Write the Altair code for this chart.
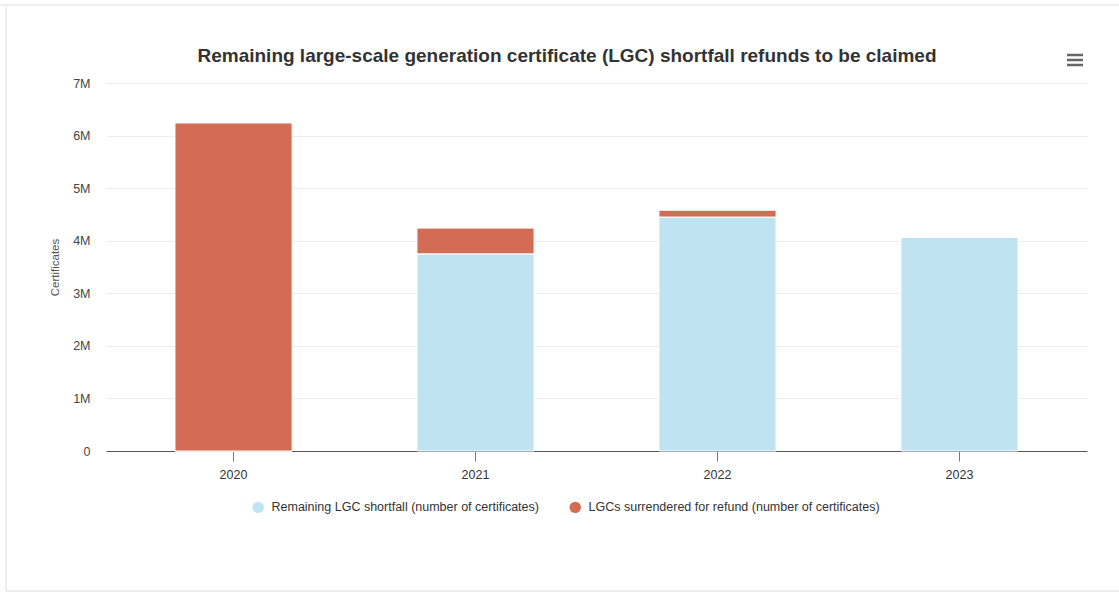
import altair as alt
import pandas as pd

years = ["2020", "2021", "2022", "2023"]
remaining = [0, 3750000, 4450000, 4070000]
surrendered = [6240000, 490000, 130000, 0]
series_names = ["Remaining LGC shortfall (number of certificates)",
                "LGCs surrendered for refund (number of certificates)"]
colors = ["#C0E3F2", "#D36C55"]
title_text = "Remaining large-scale generation certificate (LGC) shortfall refunds to be claimed"

rows = []
for i, y in enumerate(years):
    rows.append({"year": y, "series": series_names[0], "value": remaining[i], "order": 0})
    rows.append({"year": y, "series": series_names[1], "value": surrendered[i], "order": 1})
df = pd.DataFrame(rows)

W, H = 981, 368

bars = alt.Chart(df).mark_bar(stroke="white", strokeWidth=1).encode(
    x=alt.X("year:N", title=None,
            scale=alt.Scale(paddingInner=0.516, paddingOuter=0.285),
            axis=alt.Axis(labelAngle=0, labelFontSize=12.5, labelColor="#333333",
                          labelFont="Liberation Sans", labelPadding=7,
                          domainColor="#555555", tickColor="#777777", tickSize=10,
                          grid=False)),
    y=alt.Y("value:Q", title="Certificates", stack="zero",
            scale=alt.Scale(domain=[0, 7000000]),
            axis=alt.Axis(values=[0, 1000000, 2000000, 3000000, 4000000, 5000000, 6000000, 7000000],
                          labelExpr="datum.value == 0 ? '0' : (datum.value / 1000000) + 'M'",
                          labelFontSize=12.5, labelColor="#444444", labelFont="Liberation Sans",
                          labelPadding=16, domain=False, ticks=False,
                          gridColor="#ececec", titleFontSize=11.5, titleFontWeight="normal",
                          titleColor="#555555", titleFont="Liberation Sans", titlePadding=12)),
    color=alt.Color("series:N", sort=series_names,
                    scale=alt.Scale(domain=series_names, range=colors),
                    legend=alt.Legend(title=None, orient="none", direction="horizontal",
                                      legendX=146, legendY=418, symbolType="circle",
                                      symbolSize=130, symbolStrokeWidth=0,
                                      labelFontSize=12.5, labelColor="#333333",
                                      labelFont="Liberation Sans", columnPadding=30,
                                      labelOffset=7, labelLimit=0, symbolOpacity=1)),
    order=alt.Order("order:Q", sort="ascending"),
)

frame_df = pd.DataFrame({"k": [0]})
title_df = pd.DataFrame({"t": [title_text]})
title_mark = alt.Chart(title_df).mark_text(
    fontSize=19, fontWeight="bold", color="#333333", font="Liberation Sans",
    align="center", baseline="middle").encode(
    x=alt.value(461), y=alt.value(-27), text="t:N")
left_border = alt.Chart(frame_df).mark_rule(color="#dddddd", strokeWidth=1).encode(
    x=alt.value(-100), y=alt.value(-78), y2=alt.value(508))
top_border = alt.Chart(frame_df).mark_rule(color="#dddddd", strokeWidth=1).encode(
    x=alt.value(-106), x2=alt.value(1013), y=alt.value(-78))
bottom_border = alt.Chart(frame_df).mark_rule(color="#dddddd", strokeWidth=1).encode(
    x=alt.value(-100), x2=alt.value(1013), y=alt.value(508))
menu = alt.layer(*[
    alt.Chart(frame_df).mark_rule(color="#666666", strokeWidth=2.5).encode(
        x=alt.value(961), x2=alt.value(977), y=alt.value(v))
    for v in [-28, -23, -18]
])

chart = alt.layer(bars, title_mark, left_border, top_border, bottom_border, menu).properties(
    width=W, height=H,
    background="white",
    autosize=alt.AutoSizeParams(type="none"),
    padding={"left": 106, "top": 83, "right": 32, "bottom": 143},
).configure_view(stroke=None)

chart.save("out.html", embed_options={"renderer": "svg", "actions": False})
